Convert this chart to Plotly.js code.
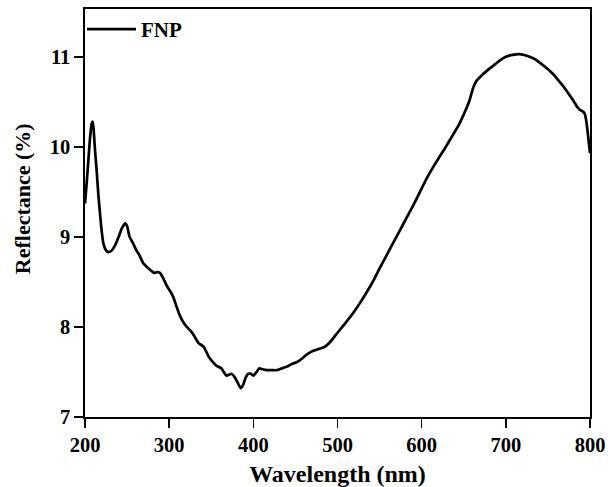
<!DOCTYPE html>
<html>
<head>
<meta charset="utf-8">
<script src="https://cdn.plot.ly/plotly-3.0.1.min.js"></script>
<style>html,body{margin:0;padding:0;background:#fff;}#chart{width:608px;height:487px;}</style>
</head>
<body>
<div id="chart"></div>
<script>
const wavelength = [200,202,204,206,208,209,210,212,214,216,218,220,222,225,228,232,236,240,244,248,250,253,257,261,265,269,273,278,282,286,289,293,297,301,305,309,313,317,321,327,331,335,341,347,352,356,362,368,371,374,378,382,385,388,391,394,397,400,404,407,411,416,422,428,434,440,446,452,458,463,468,473,479,485,491,497,503,510,519,527,535,543,550,558,566,574,582,590,598,606,614,622,630,637,644,651,657,661,665,670,677,685,693,700,708,715,722,733,741,749,757,764,770,776,781,785,788,792,794,796,798,800];
const reflectance = [9.37,9.6,9.85,10.1,10.26,10.28,10.22,9.95,9.72,9.45,9.24,9.05,8.92,8.85,8.83,8.85,8.91,9.0,9.1,9.15,9.12,9.0,8.93,8.85,8.79,8.71,8.67,8.63,8.6,8.61,8.6,8.54,8.46,8.40,8.33,8.22,8.12,8.05,8.0,7.94,7.88,7.82,7.78,7.67,7.61,7.57,7.54,7.46,7.47,7.48,7.44,7.37,7.32,7.36,7.44,7.48,7.48,7.46,7.5,7.54,7.53,7.52,7.52,7.52,7.54,7.56,7.59,7.61,7.65,7.69,7.72,7.74,7.76,7.78,7.83,7.90,7.97,8.05,8.16,8.27,8.39,8.52,8.65,8.79,8.93,9.07,9.21,9.35,9.50,9.65,9.78,9.90,10.02,10.13,10.24,10.38,10.52,10.65,10.73,10.78,10.84,10.90,10.96,11.0,11.02,11.03,11.02,10.98,10.93,10.87,10.80,10.72,10.65,10.57,10.50,10.44,10.41,10.39,10.36,10.26,10.1,9.93];
const xTicks = [200,300,400,500,600,700,800];
const yTicks = [7,8,9,10,11];
const seriesName = "FNP";
const xTitle = 'Wavelength (nm)';
const yTitle = 'Reflectance (%)';

const fontFam = '"Liberation Serif", "Times New Roman", serif';
const trace = {
  x: wavelength, y: reflectance, type: 'scatter', mode: 'lines', name: seriesName,
  line: {color: '#000', width: 2.7, shape: 'spline', smoothing: 0.5}
};
const axisCommon = {
  showline: true, mirror: true, linecolor: '#000', linewidth: 1.6,
  ticks: 'outside', ticklen: 9, tickwidth: 1.6, tickcolor: '#000',
  showgrid: false, zeroline: false,
  tickfont: {family: fontFam, size: 20.5, color: '#000', weight: 'bold'}
};
const layout = {
  width: 608, height: 487,
  margin: {l: 85, r: 18, t: 9, b: 70},
  paper_bgcolor: '#fff', plot_bgcolor: '#fff',
  showlegend: true,
  legend: {x: -0.006, y: 1.0, xanchor: 'left', yanchor: 'top', bgcolor: 'rgba(0,0,0,0)',
    font: {family: fontFam, size: 21, color: '#000', weight: 'bold'}, itemwidth: 49},
  xaxis: Object.assign({}, axisCommon, {
    range: [200, 800], tickvals: xTicks, ticktext: xTicks.map(String),
    title: {text: xTitle, font: {family: fontFam, size: 24, color: '#000', weight: 'bold'}, standoff: 12}
  }),
  yaxis: Object.assign({}, axisCommon, {
    range: [7, 11.53], tickvals: yTicks, ticktext: yTicks.map(String)
  }),
  annotations: [{
    text: yTitle, xref: 'paper', yref: 'paper', x: -0.125, y: 0.536,
    xanchor: 'center', yanchor: 'middle', textangle: -90, showarrow: false,
    font: {family: fontFam, size: 22, color: '#000', weight: 'bold'}
  }]
};
Plotly.newPlot('chart', [trace], layout, {displayModeBar: false, staticPlot: true});
</script>
</body>
</html>
